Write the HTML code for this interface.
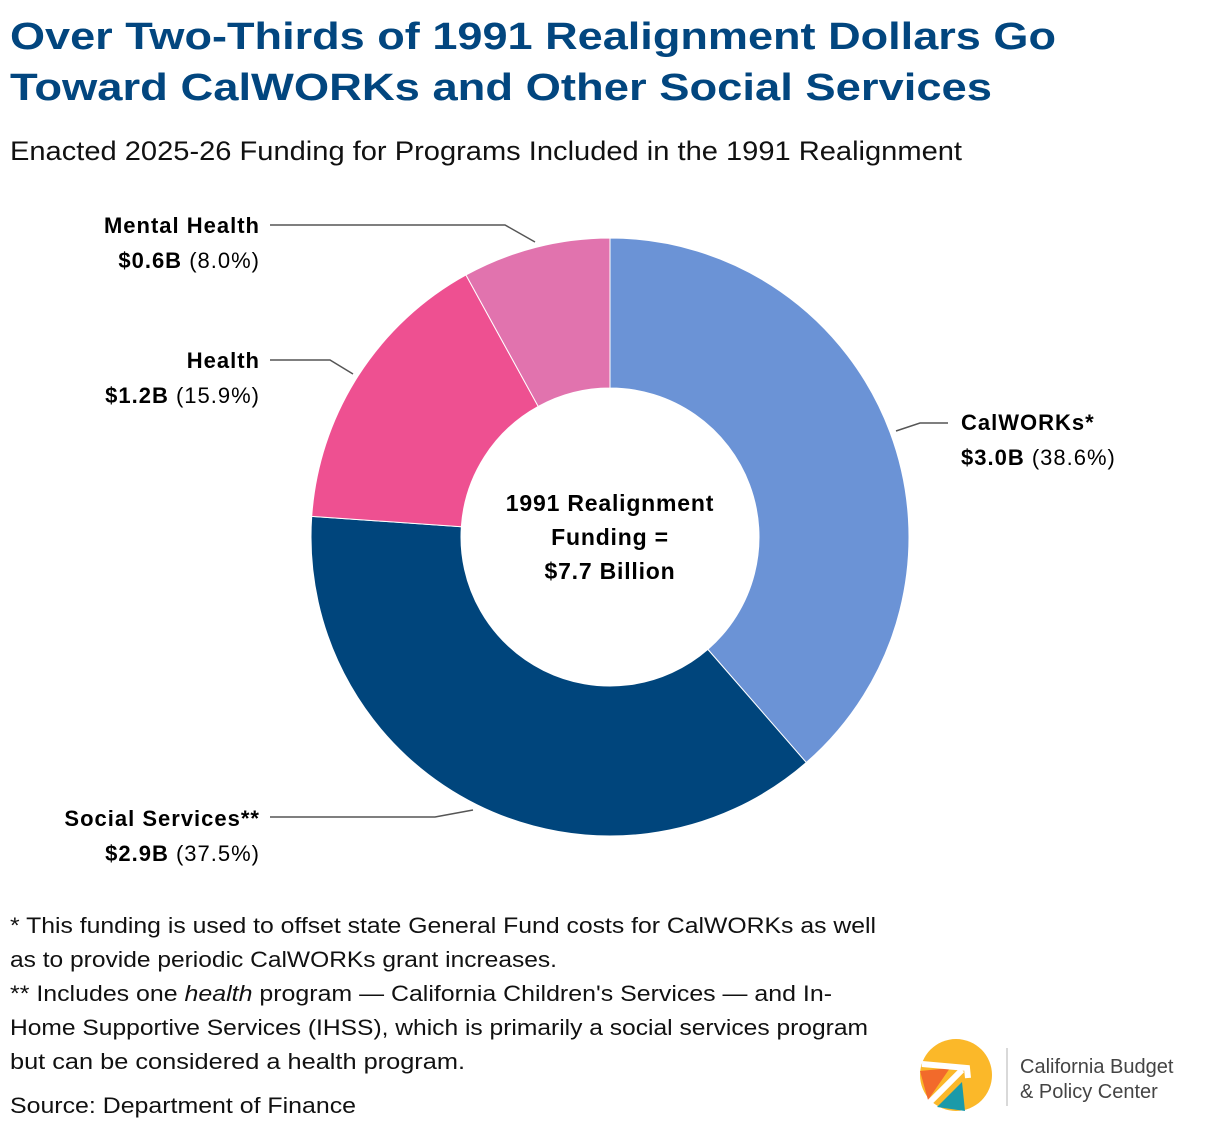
<!DOCTYPE html>
<html><head><meta charset="utf-8"><style>
html,body{margin:0;padding:0;background:#fff}
svg{display:block;font-family:"Liberation Sans",sans-serif}
</style></head><body>
<svg width="1220" height="1132" viewBox="0 0 1220 1132">
<g fill="#02467f" font-weight="bold" font-size="38">
<text x="10" y="49" textLength="1046" lengthAdjust="spacingAndGlyphs">Over Two-Thirds of 1991 Realignment Dollars Go</text>
<text x="10" y="100" textLength="982" lengthAdjust="spacingAndGlyphs">Toward CalWORKs and Other Social Services</text>
</g>
<text x="10" y="160" font-size="27" fill="#111" textLength="952" lengthAdjust="spacingAndGlyphs">Enacted 2025-26 Funding for Programs Included in the 1991 Realignment</text>
<g id="donut"></g>
<g font-size="23" font-weight="bold" text-anchor="middle" fill="#000" letter-spacing="0.8">
<text x="610" y="511">1991 Realignment</text><text x="610" y="545">Funding =</text><text x="610" y="579">$7.7 Billion</text>
</g>
<g id="labels" font-size="22" fill="#000" letter-spacing="1"></g>
<g font-size="22" fill="#111">
<text x="10" y="933" textLength="866" lengthAdjust="spacingAndGlyphs">* This funding is used to offset state General Fund costs for CalWORKs as well</text>
<text x="10" y="967" textLength="547" lengthAdjust="spacingAndGlyphs">as to provide periodic CalWORKs grant increases.</text>
<text x="10" y="1001" textLength="822" lengthAdjust="spacingAndGlyphs">** Includes one <tspan font-style="italic">health</tspan> program — California Children's Services — and In-</text>
<text x="10" y="1035" textLength="858" lengthAdjust="spacingAndGlyphs">Home Supportive Services (IHSS), which is primarily a social services program</text>
<text x="10" y="1069" textLength="455" lengthAdjust="spacingAndGlyphs">but can be considered a health program.</text>
<text x="10" y="1113" textLength="346" lengthAdjust="spacingAndGlyphs">Source: Department of Finance</text>
</g>
<g>
<circle cx="956" cy="1075" r="36" fill="#fbb829"/>
<path d="M920 1071 L950 1068 L928 1100 Z" fill="#f26a2b"/>
<path d="M962 1082 L965 1111 L937 1107 Z" fill="#1b9aa9"/>
<path d="M922 1064 L967 1068 L968 1078" stroke="#fff" stroke-width="6" fill="none"/>
<path d="M962 1070 L930 1102" stroke="#fff" stroke-width="6" fill="none"/>
<line x1="1007" y1="1048" x2="1007" y2="1106" stroke="#ccc" stroke-width="1.5"/>
<text x="1020" y="1073" font-size="20" fill="#444">California Budget</text>
<text x="1020" y="1098" font-size="20" fill="#444">&amp; Policy Center</text>
</g>
<script>
const categories=["CalWORKs*","Social Services**","Health","Mental Health"];
const amounts=["$3.0B","$2.9B","$1.2B","$0.6B"];
const shares=[38.6,37.5,15.9,8.0];
const colors=["#6b93d6","#00457c","#ee5091","#e173ae"];
const NS="http://www.w3.org/2000/svg";
const cx=610,cy=537,R=299,r=149;
function pt(a,rad){return [cx+rad*Math.sin(a),cy-rad*Math.cos(a)];}
const total=shares.reduce((s,v)=>s+v,0);
const g=document.getElementById('donut');
let a0=0;
shares.forEach((v,i)=>{
 const a1=a0+v/total*2*Math.PI;
 const [x0,y0]=pt(a0,R),[x1,y1]=pt(a1,R),[x2,y2]=pt(a1,r),[x3,y3]=pt(a0,r);
 const lg=(a1-a0)>Math.PI?1:0;
 const p=document.createElementNS(NS,'path');
 p.setAttribute('d',`M${x0} ${y0}A${R} ${R} 0 ${lg} 1 ${x1} ${y1}L${x2} ${y2}A${r} ${r} 0 ${lg} 0 ${x3} ${y3}Z`);
 p.setAttribute('fill',colors[i]);p.setAttribute('stroke','#fff');p.setAttribute('stroke-width','1');
 
 
 g.appendChild(p);a0=a1;
});
const L=document.getElementById('labels');
const lay=[
 {x:961,y:430,anchor:'start',line:'M948 423L920 423L896 431'},
 {x:260,y:826,anchor:'end',line:'M270 817L435 817L473 810'},
 {x:260,y:368,anchor:'end',line:'M270 360L330 360L353 374'},
 {x:260,y:233,anchor:'end',line:'M270 225L505 225L535 242'}];
categories.forEach((c,i)=>{
 const o=lay[i];
 const grp=document.createElementNS(NS,'g');
 
 
 const ln=document.createElementNS(NS,'path');
 ln.setAttribute('d',o.line);ln.setAttribute('stroke','#555');ln.setAttribute('fill','none');ln.setAttribute('stroke-width','1.5');
 grp.appendChild(ln);
 const t1=document.createElementNS(NS,'text');
 t1.setAttribute('x',o.x);t1.setAttribute('y',o.y);t1.setAttribute('text-anchor',o.anchor);t1.setAttribute('font-weight','bold');
 t1.textContent=c;grp.appendChild(t1);
 const t2=document.createElementNS(NS,'text');
 t2.setAttribute('x',o.x);t2.setAttribute('y',o.y+35);t2.setAttribute('text-anchor',o.anchor);
 const s1=document.createElementNS(NS,'tspan');
 s1.setAttribute('font-weight','bold');
 s1.textContent=amounts[i];
 const s2=document.createElementNS(NS,'tspan');
 s2.textContent=' ('+shares[i].toFixed(1)+'%)';
 t2.appendChild(s1);t2.appendChild(s2);
 grp.appendChild(t2);
 L.appendChild(grp);
});
</script>
</svg>
</body></html>
